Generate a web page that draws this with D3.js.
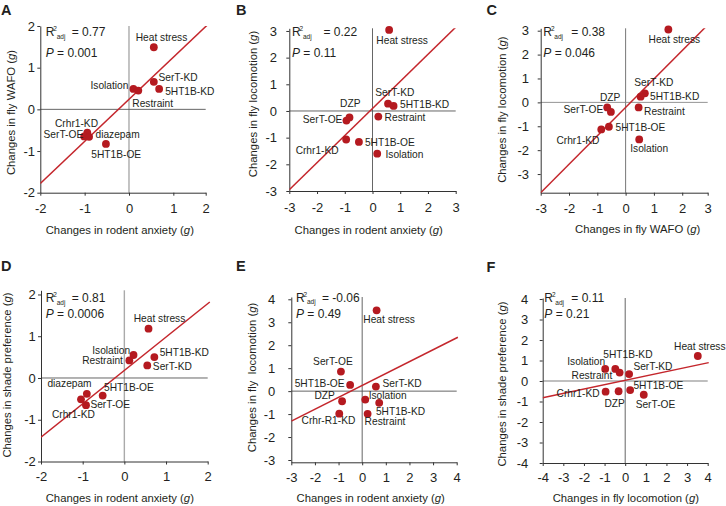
<!DOCTYPE html>
<html><head><meta charset="utf-8">
<script src="https://cdn.jsdelivr.net/npm/d3@7"></script>
<style>
body{margin:0;background:#fff}
svg{display:block}
text{font-family:"Liberation Sans",Arial,Helvetica,sans-serif;fill:#231f20}
</style>
</head><body>
<svg id="chart" width="726" height="506"></svg>
<script>
// ---------------- DATA ----------------
const panelLetters = ["A","B","C","D","E","F"];
const xTitles = ["Changes in rodent anxiety","Changes in rodent anxiety","Changes in fly WAFO",
                 "Changes in rodent anxiety","Changes in rodent anxiety","Changes in fly locomotion"];
const yTitles = ["Changes in fly WAFO","Changes in fly locomotion","Changes in fly locomotion",
                 "Changes in shade preference","Changes in fly  locomotion","Changes in shade preference"];
const r2Values = ["0.77","0.22","0.38","0.81","-0.06","0.11"];
const pValues  = ["0.001","0.11","0.046","0.0006","0.49","0.21"];
const slopes     = [1.01, 1.015, 1.19, 0.80, 0.518, 0.213];
const intercepts = [0.24, 0.095, -0.21, 0.18, 0.25, 0.035];

const namesA = ["Heat stress","SerT-KD","5HT1B-KD","Isolation","Restraint","Crhr1-KD","SerT-OE","diazepam","5HT1B-OE"];
const xA = [0.56,0.56,0.68,0.10,0.21,-0.94,-1.01,-0.90,-0.52];
const yA = [1.49,0.66,0.49,0.49,0.45,-0.56,-0.65,-0.66,-0.83];

const namesB = ["Heat stress","SerT-KD","5HT1B-KD","Restraint","Isolation","5HT1B-OE","Crhr1-KD","DZP","SerT-OE"];
const xB = [0.60,0.56,0.76,0.21,0.17,-0.49,-0.95,-0.83,-0.94];
const yB = [3.04,0.275,0.19,-0.21,-1.60,-1.16,-1.07,-0.24,-0.36];

const namesC = ["Heat stress","SerT-KD","5HT1B-KD","Restraint","Isolation","DZP","SerT-OE","5HT1B-OE","Crhr1-KD"];
const xC = [1.51,0.68,0.53,0.46,0.48,-0.52,-0.65,-0.59,-0.86];
const yC = [3.05,0.38,0.24,-0.21,-1.55,-0.40,-0.21,-1.02,-1.13];

const namesD = ["Heat stress","Isolation","Restraint","5HT1B-KD","SerT-KD","5HT1B-OE","diazepam","Crhr1-KD","SerT-OE"];
const xD = [0.58,0.22,0.12,0.72,0.55,-0.52,-0.90,-1.04,-0.92];
const yD = [1.18,0.55,0.42,0.50,0.30,-0.42,-0.38,-0.51,-0.65];

const namesE = ["Heat stress","SerT-OE","5HT1B-OE","SerT-KD","DZP","Isolation","5HT1B-KD","Crhr-R1-KD","Restraint"];
const xE = [0.61,-0.90,-0.51,0.58,-0.85,0.13,0.72,-0.97,0.23];
const yE = [3.52,0.85,0.27,0.20,-0.44,-0.37,-0.51,-0.98,-0.99];

const namesF = ["Heat stress","Isolation","5HT1B-KD","Restraint","SerT-KD","Crhr1-KD","DZP","5HT1B-OE","SerT-OE"];
const xF = [3.52,-0.97,-0.48,-0.27,0.19,-0.95,-0.32,0.24,0.90];
const yF = [1.22,0.59,0.59,0.41,0.34,-0.52,-0.50,-0.44,-0.67];

// axis domains and ticks
const xDomains = [[-2,1.73],[-3,3],[-3,2.9],[-2,2],[-3,4],[-4,4]];
const yDomains = [[-2,2],[-3,3.1],[-3.78,3.1],[-2,2.1],[-3.1,4.1],[-4,4.05]];
const xTickVals = [[-2,-1,0,1,1.73],[-3,-2,-1,0,1,2,3],[-3,-2,-1,0,1,2,2.9],[-2,-1,0,1,2],[-3,-2,-1,0,1,2,3,4],[-4,-3,-2,-1,0,1,2,3,4]];
const xTickLabels = [["-2","-1","0","1","2"],["-3","-2","-1","0","1","2","3"],["-3","-2","-1","0","1","2","3"],
                     ["-2","-1","0","1","2"],["-3","-2","-1","0","1","2","3","4"],["-4","-3","-2","-1","0","1","2","3","4"]];
const yTickVals = [[-2,-1,0,1,2],[-3,-2,-1,0,1,2,3],[-3,-2,-1,0,1,2,3],[-2,-1,0,1,2],[-3,-2,-1,0,1,2,3,4],[-4,-3,-2,-1,0,1,2,3,4]];

// ---------------- LAYOUT (positions / styles) ----------------
const layout = [
  {xr:[40.3,205.7], yr:[192.7,26],   xpad:8.4, ypad:2.3, vz:"#aaa", hz:"#555", letter:[1,15],
   stat:[45.7,36,57], eqOff:26, xt:[119.8,233.5], yt:[14.8,112.5]},
  {xr:[289.3,455.7],yr:[191,28.3],   xpad:8.4, ypad:9.3, vz:"#555", hz:"#555", letter:[236,15],
   stat:[292,36,56.7], eqOff:31.5, xt:[368.7,233.5], yt:[256.5,104]},
  {xr:[540.7,707.7],yr:[192.7,28.3], xpad:8.4, ypad:8.7, vz:"#666", hz:"#888", letter:[486.5,14.5],
   stat:[543.3,36,57], eqOff:28, xt:[637.7,233], yt:[505.5,109.7]},
  {xr:[41,207.7],   yr:[461.5,290.3],xpad:7.1, ypad:2.3, vz:"#aaa", hz:"#555", letter:[1,270.7],
   stat:[45.7,302.3,318.3], eqOff:26, xt:[119.8,501.7], yt:[11,375]},
  {xr:[291.3,456.7],yr:[462.3,297],  xpad:7.8, ypad:13,  vz:"#555", hz:"#555", letter:[236,271],
   stat:[296,301.7,317.7], eqOff:26, xt:[370.7,501.7], yt:[256,377.5]},
  {xr:[542.7,707.7],yr:[463,298],    xpad:7.1, ypad:11.4,vz:"#555", hz:"#aaa", letter:[486.5,272],
   stat:[544.3,302.3,317.7], eqOff:27, xt:[625.8,501.7], yt:[505.5,384]}
];
// label placement per point: [anchor, dx, dy(baseline)]
const labelPos = [
  [["middle",7.7,-6.3],["start",4.7,-1.3],["start",6,6.3],["end",-5,0],["start",-6,16.4],["middle",-10.8,-5.6],["end",-1,1.7],["start",6.4,1],["middle",10.3,14]],
  [["middle",13,14.3],["middle",6.8,-7.7],["start",6.4,2],["start",6.3,4.6],["start",8.3,4.3],["start",6,3.7],["middle",-29,14.6],["middle",0.8,-10],["end",-4,2]],
  [["middle",6,13.4],["middle",9,-7.3],["start",9.4,3.3],["start",5.4,7.7],["middle",10,12.4],["middle",-0.7,-11],["end",-4,6],["start",6.6,4.3],["middle",-23.3,15]],
  [["middle",11,-6.6],["end",-3.3,-1.3],["end",-6.4,4],["start",5.3,-1],["start",5.6,4.7],["start",1.3,-4.7],["middle",-17.3,-6.6],["middle",-7.6,18.6],["start",4.4,2.4]],
  [["middle",12.5,12.7],["middle",-8,-7],["end",-5.6,2],["start",6.7,0.7],["end",-7.3,-2.3],["start",3.4,-0.7],["start",-3.3,11.7],["middle",-10.8,10.3],["start",-3,11.4]],
  [["middle",2,-6],["end",0,-4],["middle",12.6,-10.7],["end",-7.3,6.6],["start",4.3,-4],["end",-6,5],["middle",-4,15.4],["start",3.3,-0.7],["middle",11.7,13]]
];

const series = [
  {names:namesA, xs:xA, ys:yA},
  {names:namesB, xs:xB, ys:yB},
  {names:namesC, xs:xC, ys:yC},
  {names:namesD, xs:xD, ys:yD},
  {names:namesE, xs:xE, ys:yE},
  {names:namesF, xs:xF, ys:yF}
];

const RED_DOT = "#b51a20", RED_LINE = "#c4262c";
const svg = d3.select("#chart");

series.forEach((s, p) => {
  const L = layout[p];
  const g = svg.append("g");
  const x = d3.scaleLinear().domain(xDomains[p]).range(L.xr);
  const y = d3.scaleLinear().domain(yDomains[p]).range(L.yr);

  // zero lines
  g.append("line").attr("x1", x(0)).attr("x2", x(0)).attr("y1", L.yr[0]).attr("y2", L.yr[1])
    .attr("stroke", L.vz).attr("stroke-width", L.vz === "#aaa" ? 1.4 : 0.9);
  g.append("line").attr("x1", L.xr[0]).attr("x2", L.xr[1]).attr("y1", y(0)).attr("y2", y(0))
    .attr("stroke", L.hz).attr("stroke-width", L.hz === "#aaa" ? 1.4 : 0.9);

  // axes
  const xa = g.append("g").attr("transform", `translate(0,${L.yr[0]})`)
    .call(d3.axisBottom(x).tickValues(xTickVals[p]).tickFormat((d,i) => xTickLabels[p][i])
      .tickSize(3).tickSizeOuter(0).tickPadding(L.xpad));
  const ya = g.append("g").attr("transform", `translate(${L.xr[0]},0)`)
    .call(d3.axisLeft(y).tickValues(yTickVals[p]).tickFormat(d => String(d))
      .tickSize(3).tickSizeOuter(0).tickPadding(L.ypad));
  [xa, ya].forEach(a => {
    a.select(".domain").attr("stroke", "#333").attr("stroke-width", 1);
    a.selectAll(".tick line").attr("stroke", "#333");
    a.selectAll(".tick text").attr("font-size", 13).attr("fill", "#231f20")
      .style("font-family", '"Liberation Sans",Arial,sans-serif');
  });

  // regression line (clipped to plot area)
  const clipId = "clip" + p;
  svg.append("clipPath").attr("id", clipId).append("rect")
    .attr("x", L.xr[0]).attr("y", L.yr[1]).attr("width", L.xr[1]-L.xr[0]+3).attr("height", L.yr[0]-L.yr[1]);
  const xd = xDomains[p];
  const lineData = [xd[0], xd[1] + 0.05].map(v => [v, intercepts[p] + slopes[p]*v]);
  g.append("path").attr("clip-path", `url(#${clipId})`)
    .attr("d", d3.line().x(d => x(d[0])).y(d => y(d[1]))(lineData))
    .attr("stroke", RED_LINE).attr("stroke-width", 1.5).attr("fill", "none");

  // points
  g.selectAll("circle.pt").data(s.names).join("circle").attr("class","pt")
    .attr("cx", (d,i) => x(s.xs[i])).attr("cy", (d,i) => y(s.ys[i])).attr("r", 3.9)
    .attr("fill", RED_DOT);

  // point labels
  g.selectAll("text.lbl").data(s.names).join("text").attr("class","lbl")
    .attr("x", (d,i) => x(s.xs[i]) + labelPos[p][i][1])
    .attr("y", (d,i) => y(s.ys[i]) + labelPos[p][i][2])
    .attr("text-anchor", (d,i) => labelPos[p][i][0])
    .attr("font-size", 10.2).text(d => d);

  // stats
  const sx = L.stat[0];
  g.append("text").attr("x", sx).attr("y", L.stat[1]).attr("font-size", 12).text("R");
  g.append("text").attr("x", sx + 7.6).attr("y", L.stat[1] - 5).attr("font-size", 6.5).text("2");
  g.append("text").attr("x", sx + 11).attr("y", L.stat[1] + 2.5).attr("font-size", 6.5).text("adj");
  g.append("text").attr("x", sx + L.eqOff).attr("y", L.stat[1]).attr("font-size", 12)
    .text("= " + r2Values[p]);
  const pt = g.append("text").attr("x", sx).attr("y", L.stat[2]).attr("font-size", 12);
  pt.append("tspan").attr("font-style", "italic").text("P");
  pt.append("tspan").text(" = " + pValues[p]);

  // axis titles
  const xt = g.append("text").attr("x", L.xt[0]).attr("y", L.xt[1]).attr("text-anchor","middle")
    .attr("font-size", 11.3).style("white-space","pre");
  xt.append("tspan").text(xTitles[p] + " (");
  xt.append("tspan").attr("font-style","italic").text("g");
  xt.append("tspan").text(")");
  const yt = g.append("text").attr("transform", `translate(${L.yt[0]},${L.yt[1]}) rotate(-90)`)
    .attr("text-anchor","middle").attr("font-size", 11.3).style("white-space","pre");
  yt.append("tspan").text(yTitles[p] + " (");
  yt.append("tspan").attr("font-style","italic").text("g");
  yt.append("tspan").text(")");

  // panel letter
  g.append("text").attr("x", L.letter[0]).attr("y", L.letter[1]).attr("font-size", 14.5)
    .attr("font-weight", "bold").text(panelLetters[p]);
});
</script>
</body></html>
